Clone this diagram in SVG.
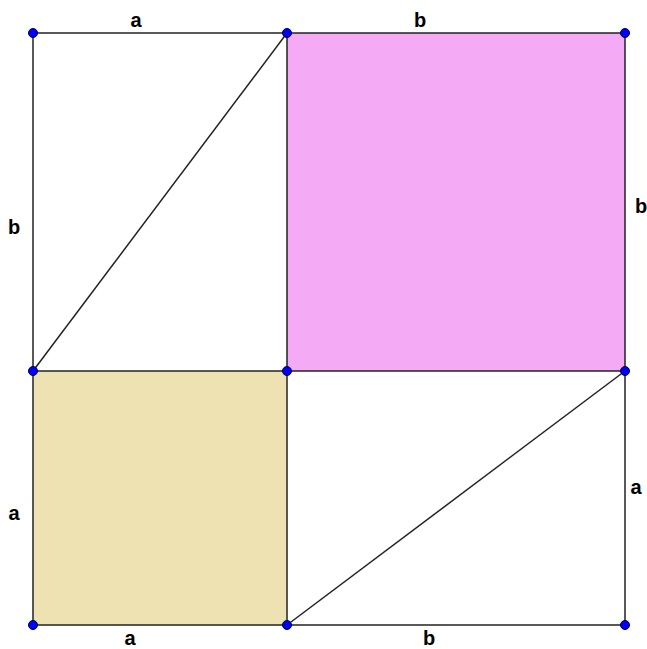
<svg xmlns="http://www.w3.org/2000/svg" width="647" height="649" viewBox="0 0 647 649">
<style>
.ln{stroke:#222;stroke-width:1.5;fill:none}
.pt{fill:#0000ff;stroke:#00003a;stroke-width:1}
.lb{font-family:"Liberation Sans",Arial,sans-serif;font-weight:bold;font-size:20px;fill:#000;text-anchor:middle}
</style>
<rect width="647" height="649" fill="#fff"/>
<g id="square-b"><rect x="287" y="33" width="338" height="338" fill="#f4aaf4"/></g>
<g id="square-a"><rect x="33" y="371" width="254" height="254" fill="#efe2b2"/></g>
<g id="connectors">
<line class="ln" x1="33" y1="33" x2="625" y2="33"/>
<line class="ln" x1="33" y1="371" x2="625" y2="371"/>
<line class="ln" x1="33" y1="625" x2="625" y2="625"/>
<line class="ln" x1="33" y1="33" x2="33" y2="625"/>
<line class="ln" x1="287" y1="33" x2="287" y2="625"/>
<line class="ln" x1="625" y1="33" x2="625" y2="625"/>
<line class="ln" x1="33" y1="371" x2="287" y2="33"/>
<line class="ln" x1="287" y1="625" x2="625" y2="371"/>
</g>
<g id="points">
<circle class="pt" cx="33" cy="33" r="4.5"/>
<circle class="pt" cx="287" cy="33" r="4.5"/>
<circle class="pt" cx="625" cy="33" r="4.5"/>
<circle class="pt" cx="33" cy="371" r="4.5"/>
<circle class="pt" cx="287" cy="371" r="4.5"/>
<circle class="pt" cx="625" cy="371" r="4.5"/>
<circle class="pt" cx="33" cy="625" r="4.5"/>
<circle class="pt" cx="287" cy="625" r="4.5"/>
<circle class="pt" cx="625" cy="625" r="4.5"/>
</g>
<g id="labels">
<text class="lb" x="136" y="27">a</text>
<text class="lb" x="420" y="27">b</text>
<text class="lb" x="14" y="234">b</text>
<text class="lb" x="641" y="213">b</text>
<text class="lb" x="14" y="520">a</text>
<text class="lb" x="636" y="494">a</text>
<text class="lb" x="130" y="645">a</text>
<text class="lb" x="429" y="645">b</text>
</g>
</svg>
